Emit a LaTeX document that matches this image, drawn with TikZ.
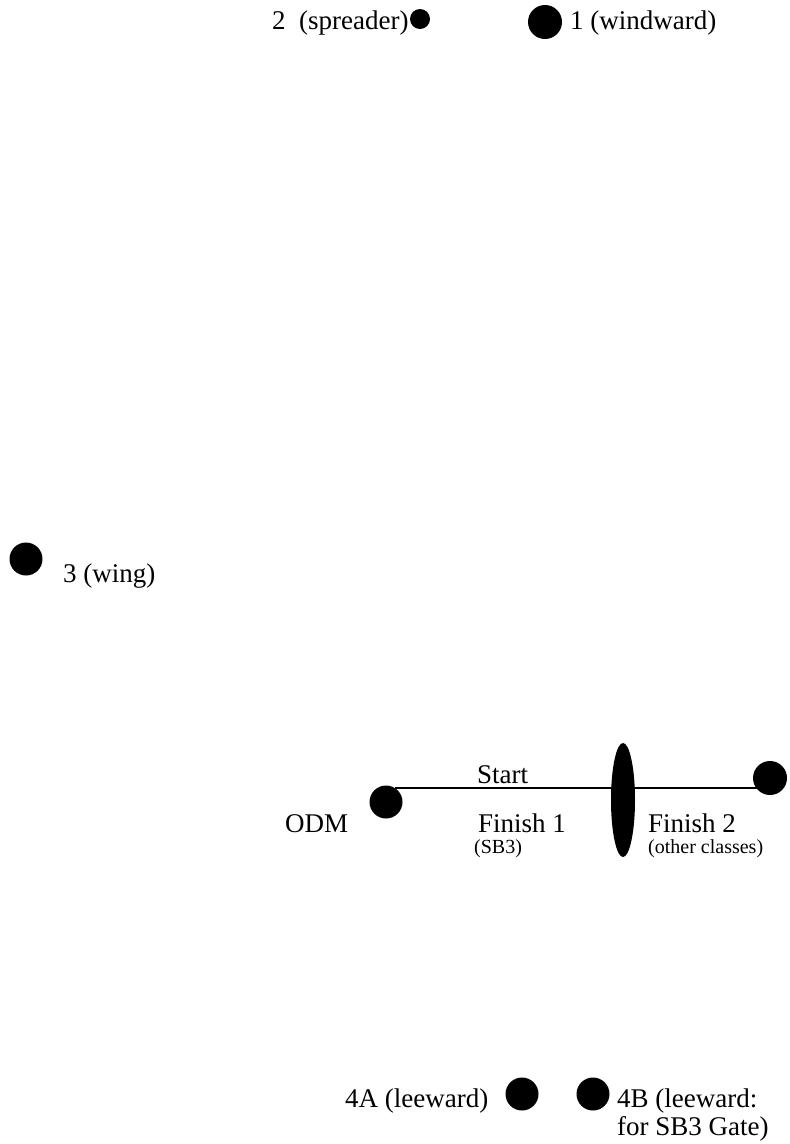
\documentclass[tikz,border=0pt]{standalone}
\usepackage{fontspec}
\setmainfont{Liberation Serif}
\usetikzlibrary{shapes.geometric}
\begin{document}
\begin{tikzpicture}[x=1pt,y=-1pt,
  lbl/.style={anchor=base west,inner sep=0pt,font=\fontsize{27}{28}\selectfont},
  sml/.style={anchor=base west,inner sep=0pt,font=\fontsize{20}{24}\selectfont},
  buoy/.style={circle,fill=black,draw=none,inner sep=0pt,minimum size=#1},
  course/.style={line width=2pt,draw=black}]
\useasboundingbox (0,0) rectangle (790,1144);
% start/finish line
\coordinate (ls) at (395,788);
\coordinate (le) at (762,788);
\draw[course] (ls) -- (le);
\node[ellipse,fill=black,draw=none,inner sep=0pt,minimum width=24pt,minimum height=114pt] (fin) at (623,800) {};
% marks
\node[buoy=20pt] (m2) at (420,19) {};
\node[buoy=34pt] (m1) at (545,22) {};
\node[buoy=33pt] (m3) at (26,559) {};
\node[buoy=33pt] (odm) at (386,802) {};
\node[buoy=34pt] (rb) at (770,778) {};
\node[buoy=33pt] (m4a) at (522,1094) {};
\node[buoy=33pt] (m4b) at (593,1094) {};
% labels
\node[lbl] (t2) at (272,29) {2~~(spreader)};
\node[lbl] (t1) at (570,29) {1 (windward)};
\node[lbl] (t3) at (63,582) {3 (wing)};
\node[lbl] (tstart) at (477,783) {Start};
\node[lbl] (todm) at (285,832) {ODM};
\node[lbl] (tf1) at (478,832) {Finish 1};
\node[sml] (tsb3) at (474,853) {(SB3)};
\node[lbl] (tf2) at (648,832) {Finish 2};
\node[sml] (toc) at (648,853) {(other classes)};
\node[lbl] (t4a) at (345,1107) {4A (leeward)};
\node[lbl] (t4b) at (617,1107) {4B (leeward:};
\node[lbl] (t4b2) at (617,1135) {for SB3 Gate)};
\end{tikzpicture}
\end{document}
